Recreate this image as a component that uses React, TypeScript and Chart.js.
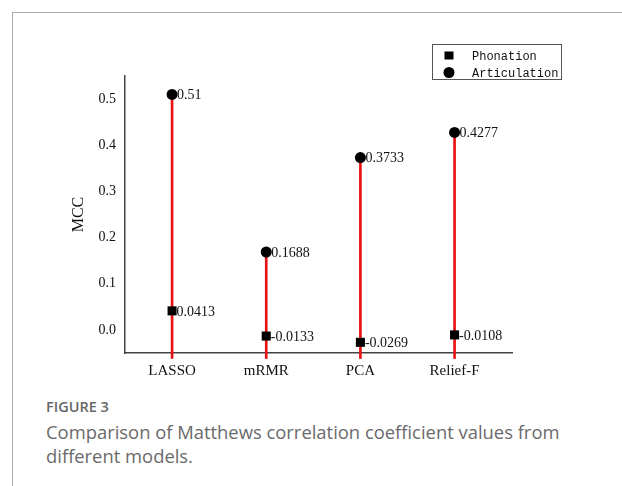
import React, { useEffect, useRef } from "react";
import { Chart, registerables } from "chart.js";

Chart.register(...registerables);

const categories = ["LASSO", "mRMR", "PCA", "Relief-F"];
const phonation = [0.0413, -0.0133, -0.0269, -0.0108];
const articulation = [0.51, 0.1688, 0.3733, 0.4277];
const yTicks = [0, 0.1, 0.2, 0.3, 0.4, 0.5];
const stemBase = -0.062;

const SERIF = "'Liberation Serif', 'Times New Roman', serif";
const MONO = "'Liberation Mono', 'Courier New', monospace";

const valueLabels = {
  id: "valueLabels",
  afterDatasetsDraw(chart: any) {
    const ctx = chart.ctx;
    ctx.save();
    ctx.font = `14px ${SERIF}`;
    ctx.fillStyle = "#111";
    ctx.textAlign = "left";
    ctx.textBaseline = "middle";
    chart.data.datasets.forEach((ds: any, di: number) => {
      if (!ds.showValue) return;
      const meta = chart.getDatasetMeta(di);
      meta.data.forEach((el: any, i: number) => {
        const v = ds.data[i].y;
        ctx.fillText(String(v), el.x + ds.labelOffset, el.y + 1);
      });
    });
    ctx.restore();
  },
};

const boxLegend = {
  id: "boxLegend",
  afterDraw(chart: any) {
    const ctx = chart.ctx;
    const items = chart.data.datasets.filter((d: any) => d.showValue);
    const left = 432.5, top = 44.5, w = 129, h = 35;
    ctx.save();
    ctx.strokeStyle = "#555";
    ctx.lineWidth = 1;
    ctx.strokeRect(left, top, w, h);
    ctx.font = `12px ${MONO}`;
    ctx.textBaseline = "middle";
    ctx.textAlign = "left";
    items.forEach((d: any, i: number) => {
      const cy = top + 11 + i * 17;
      const cx = left + 16.5;
      ctx.fillStyle = "#000";
      if (d.pointStyle === "rect") {
        ctx.fillRect(cx - 4.5, cy - 4, 9, 8);
      } else {
        ctx.beginPath();
        ctx.arc(cx, cy, 5.5, 0, Math.PI * 2);
        ctx.fill();
      }
      ctx.fillStyle = "#111";
      ctx.fillText(d.label, left + 39.5, cy + 1);
    });
    ctx.restore();
  },
};

export default function App() {
  const ref = useRef<HTMLCanvasElement>(null);
  useEffect(() => {
    if (!ref.current) return;
    const chart = new Chart(ref.current, {
      type: "bar",
      data: {
        datasets: [
          {
            type: "line",
            label: "Phonation",
            data: phonation.map((v, i) => ({ x: i, y: v })),
            showLine: false,
            pointStyle: "rect",
            pointRadius: 6.4,
            pointBackgroundColor: "#000",
            pointBorderWidth: 0,
            order: 0,
            showValue: true,
            labelOffset: 4.5,
          } as any,
          {
            type: "line",
            label: "Articulation",
            data: articulation.map((v, i) => ({ x: i, y: v })),
            showLine: false,
            pointStyle: "circle",
            pointRadius: 5.5,
            pointBackgroundColor: "#000",
            pointBorderWidth: 0,
            order: 1,
            showValue: true,
            labelOffset: 5,
          } as any,
          {
            type: "bar",
            label: "stem",
            data: articulation.map((v, i) => ({ x: i, y: [stemBase, v] })),
            backgroundColor: "rgb(232,18,18)",
            borderWidth: 0,
            barThickness: 2,
            grouped: false,
            clip: false,
            order: 2,
          } as any,
        ],
      },
      options: {
        animation: false,
        responsive: false,
        maintainAspectRatio: false,
        layout: { padding: { top: 76, right: 110, left: 65, bottom: 0 } },
        plugins: {
          legend: { display: false },
          tooltip: { enabled: false },
        },
        scales: {
          x: {
            type: "linear",
            offset: false,
            min: -0.5,
            max: 3.61,
            grid: { display: false, drawTicks: false, offset: false },
            border: { display: true, color: "#444", width: 1.5 },
            afterBuildTicks: (s: any) => {
              s.ticks = categories.map((_, i) => ({ value: i }));
            },
            afterFit: (s: any) => {
              s.height = 37;
            },
            ticks: {
              padding: 9,
              autoSkip: false,
              maxRotation: 0,
              color: "#111",
              font: { family: SERIF, size: 15 },
              callback: (v: any) => categories[v] ?? "",
            },
          },
          y: {
            type: "linear",
            min: -0.05,
            max: 0.55,
            grid: { display: false, drawTicks: false },
            border: { display: true, color: "#444", width: 1.5 },
            afterBuildTicks: (s: any) => {
              s.ticks = yTicks.map((v) => ({ value: v }));
            },
            afterFit: (s: any) => {
              s.width = 60;
            },
            title: {
              display: true,
              text: "MCC",
              color: "#111",
              font: { family: SERIF, size: 16 },
            },
            ticks: {
              padding: 9,
              color: "#111",
              font: { family: SERIF, size: 14 },
              callback: (v: any) => Number(v).toFixed(1),
            },
          },
        },
      } as any,
      plugins: [valueLabels, boxLegend],
    });
    return () => chart.destroy();
  }, []);

  return (
    <div
      style={{
        position: "fixed",
        left: 0,
        top: 0,
        width: 622,
        height: 486,
        background: "#fff",
        overflow: "hidden",
      }}
    >
      <div style={{ position: "absolute", left: 12, top: 12, right: 0, height: 1, background: "#aaa" }} />
      <div style={{ position: "absolute", left: 12, top: 12, bottom: 0, width: 1, background: "#aaa" }} />
      <canvas
        ref={ref}
        width={622}
        height={390}
        style={{ position: "absolute", left: 0, top: 0, width: 622, height: 390 }}
      />
      <div
        style={{
          position: "absolute",
          left: 46,
          top: 397,
          fontFamily: "'Open Sans', sans-serif",
          fontSize: 14.5,
          lineHeight: "19px",
          fontWeight: 600,
          color: "#666",
          whiteSpace: "nowrap",
        }}
      >
        FIGURE 3
      </div>
      <div
        style={{
          position: "absolute",
          left: 46,
          top: 420,
          fontFamily: "'Open Sans', sans-serif",
          fontSize: 18.4,
          lineHeight: "24px",
          fontWeight: 400,
          color: "#6a6a6a",
          whiteSpace: "nowrap",
        }}
      >
        Comparison of Matthews correlation coefficient values from
        <br />
        different models.
      </div>
    </div>
  );
}
